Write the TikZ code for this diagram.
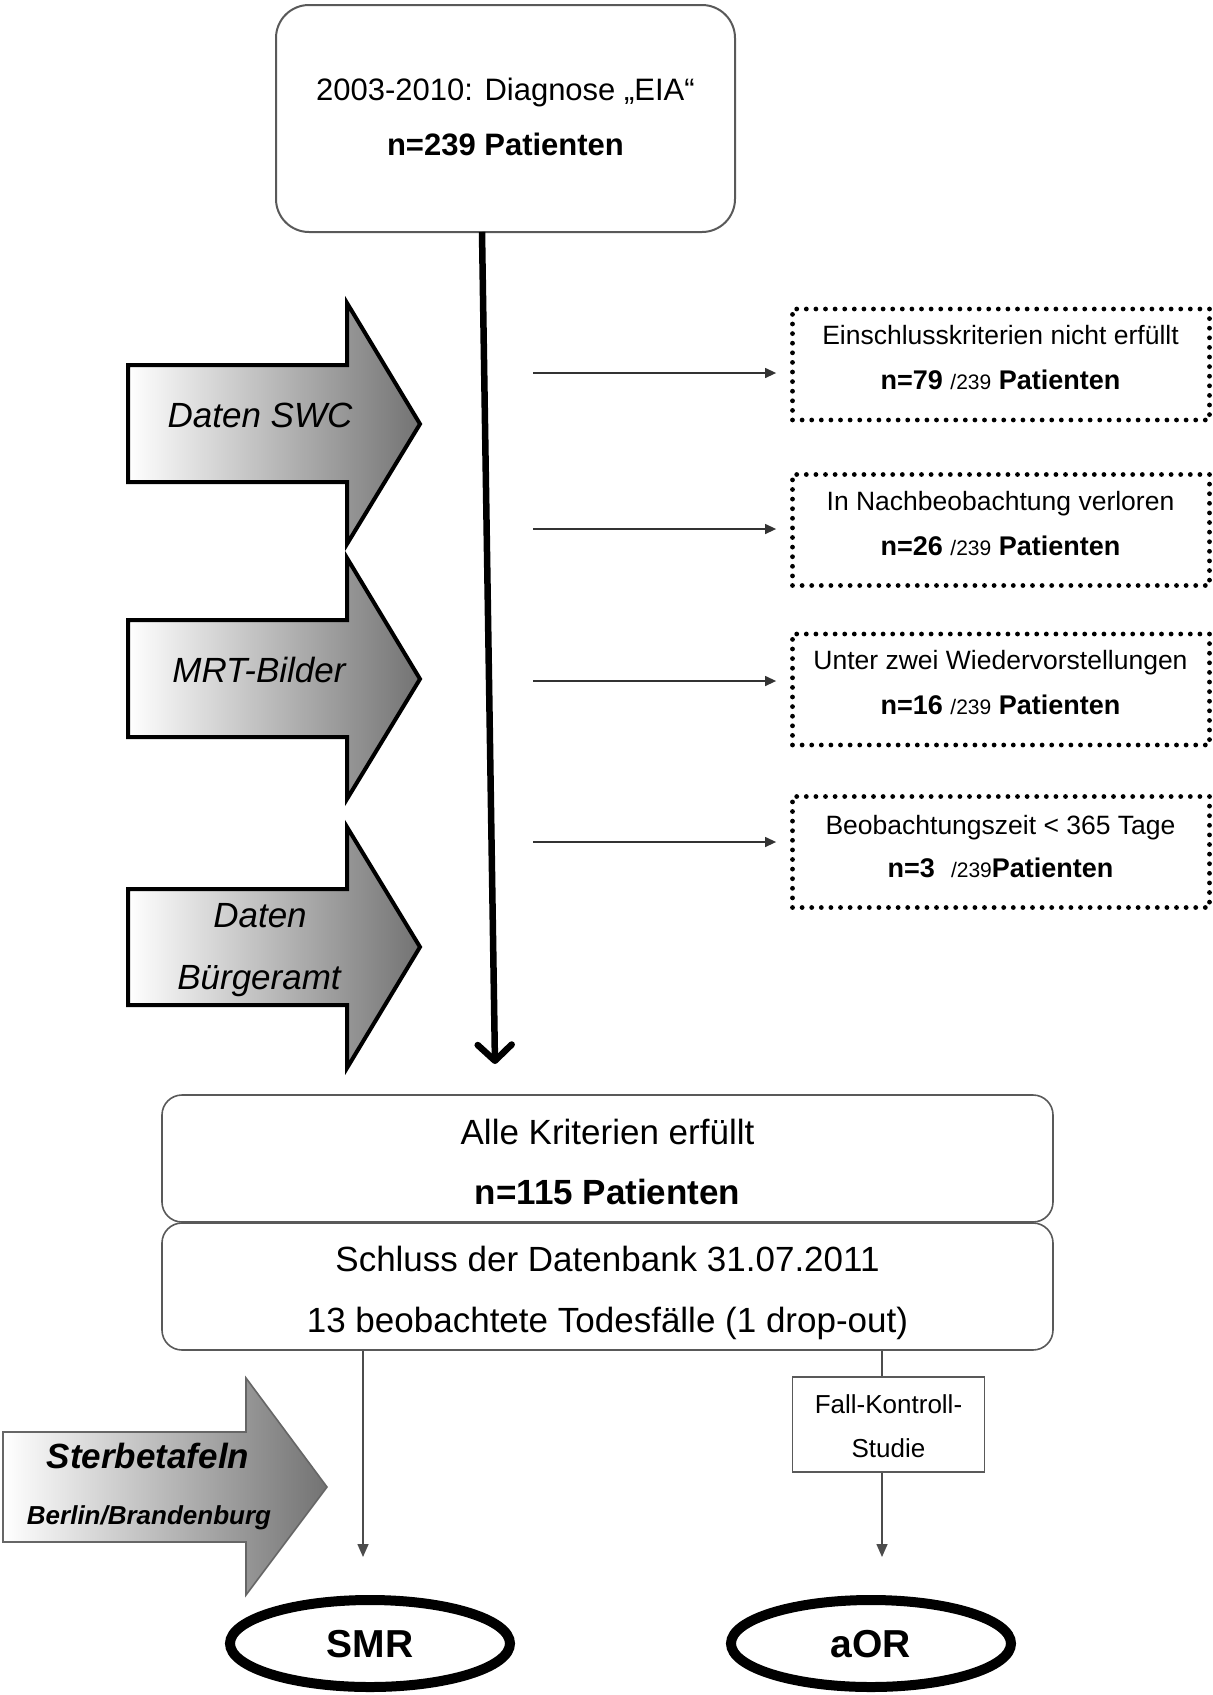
\documentclass[tikz,border=0pt]{standalone}
\usepackage{fontspec}
\setmainfont{Liberation Sans}
\usetikzlibrary{arrows.meta,calc,shapes.geometric}
\newcommand\fsz[1]{\fontsize{#1}{#1}\selectfont}
\begin{document}
\begin{tikzpicture}[x=1pt,y=-1pt,
  txt/.style={inner sep=0pt, anchor=base, text=black},
  topbox/.style={draw=black!65, line width=2pt, rounded corners=33pt, inner sep=0pt},
  bigbox/.style={draw=black!65, line width=1.6pt, rounded corners=20pt, inner sep=0pt, minimum width=891pt},
  dotbox/.style={draw=black, line width=4.8pt, dash pattern=on 0pt off 9.6pt, line cap=round, inner sep=0pt, minimum width=417pt, minimum height=111pt},
  fallbox/.style={draw=black!65, line width=1.4pt, inner sep=0pt, minimum width=192pt, minimum height=95pt},
  oval/.style={draw=black, line width=10pt, ellipse, inner sep=0pt, minimum width=280pt, minimum height=87pt, font=\fsz{39}\bfseries, text depth=0pt},
  bigarrow/.style={draw=black, line width=4pt, line join=miter, left color=white, right color=black!55},
  smallarrow/.style={draw=black!80, line width=1.3pt, -{Triangle[length=11pt,width=10pt]}},
  conn/.style={draw=black!70, line width=1.5pt},
  connarrow/.style={draw=black!70, line width=1.5pt, -{Triangle[length=13pt,width=11pt]}},
  mainarrow/.style={draw=black, line width=6.5pt, -{Straight Barb[length=16pt,width=34pt,round]}}
]
\useasboundingbox (0,0) rectangle (1213,1695);

% top box
\node[topbox, minimum width=459pt, minimum height=227pt] (top) at (505.5,118.5) {};
\node[txt, font=\fsz{31}] (topl1) at (505.5,100) {2003-2010: Diagnose „EIA“};
\node[txt, font=\fsz{31}\bfseries] (topl2) at (505.5,155) {n=239 Patienten};

% side input arrows
\draw[bigarrow] (128,365) -- (347,365) -- (347,303) -- (420,424) -- (347,544) -- (347,482) -- (128,482) -- cycle;
\node[txt, font=\fsz{35}\itshape] (swc) at (260,427) {Daten SWC};

\draw[bigarrow] (128,620) -- (347,620) -- (347,558) -- (420,679) -- (347,799) -- (347,737) -- (128,737) -- cycle;
\node[txt, font=\fsz{35}\itshape] (mrt) at (259,682) {MRT-Bilder};

\draw[bigarrow] (128,889) -- (347,889) -- (347,827) -- (420,947) -- (347,1068) -- (347,1005) -- (128,1005) -- cycle;
\node[txt, font=\fsz{35}\itshape] (bue1) at (260,927) {Daten};
\node[txt, font=\fsz{35}\itshape] (bue2) at (259,989) {Bürgeramt};

% exclusion boxes
\node[dotbox] (ex1) at (1001,364.5) {};
\node[txt, font=\fsz{26.5}] (ex1a) at (1000.5,344) {Einschlusskriterien nicht erfüllt};
\node[txt, font=\fsz{27}] (ex1b) at (1000.5,389) {\textbf{n=79} {\fsz{21}/239} \textbf{Patienten}};

\node[dotbox] (ex2) at (1001,530) {};
\node[txt, font=\fsz{26.5}] (ex2a) at (1000.5,510) {In Nachbeobachtung verloren};
\node[txt, font=\fsz{27}] (ex2b) at (1000.5,555) {\textbf{n=26} {\fsz{21}/239} \textbf{Patienten}};

\node[dotbox] (ex3) at (1001,689.5) {};
\node[txt, font=\fsz{26.5}] (ex3a) at (1000.5,669) {Unter zwei Wiedervorstellungen};
\node[txt, font=\fsz{27}] (ex3b) at (1000.5,714) {\textbf{n=16} {\fsz{21}/239} \textbf{Patienten}};

\node[dotbox] (ex4) at (1001,852) {};
\node[txt, font=\fsz{26.5}] (ex4a) at (1000.5,834) {Beobachtungszeit < 365 Tage};
\node[txt, font=\fsz{27}] (ex4b) at (1000.5,877) {\textbf{n=3}\hspace{0.6em}{\fsz{21}/239}\textbf{Patienten}};

% small arrows
\coordinate (s1) at (533,373);
\coordinate (s2) at (533,529);
\coordinate (s3) at (533,681);
\coordinate (s4) at (533,842);
\draw[smallarrow, shorten >=14pt] (s1) -- (s1 -| ex1.west);
\draw[smallarrow, shorten >=14pt] (s2) -- (s2 -| ex2.west);
\draw[smallarrow, shorten >=14pt] (s3) -- (s3 -| ex3.west);
\draw[smallarrow, shorten >=14pt] (s4) -- (s4 -| ex4.west);

% main arrow
\coordinate (mainstart) at (482,232);
\coordinate (mainend) at (495,1064);
\draw[mainarrow] (mainstart) -- (mainend);

% result boxes
\node[bigbox, minimum height=127pt] (all) at (607.5,1158.5) {};
\node[txt, font=\fsz{35}] (alla) at (607.5,1144) {Alle Kriterien erfüllt};
\node[txt, font=\fsz{35}\bfseries] (allb) at (607.5,1204) {n=115 Patienten};

\node[bigbox, minimum height=127pt] (db) at (607.5,1286.5) {};
\node[txt, font=\fsz{35}] (dba) at (607.5,1271) {Schluss der Datenbank 31.07.2011};
\node[txt, font=\fsz{35}] (dbb) at (607.5,1332) {13 beobachtete Todesfälle (1 drop-out)};

% Sterbetafeln arrow
\draw[bigarrow, line width=1.6pt, draw=black!60] (3,1432) -- (246,1432) -- (246,1378) -- (327,1487) -- (246,1595) -- (246,1542) -- (3,1542) -- cycle;
\node[txt, font=\fsz{35}\bfseries\itshape] (st1) at (148,1468) {Sterbetafeln};
\node[txt, font=\fsz{26}\bfseries\itshape] (st2) at (149,1524) {Berlin/Brandenburg};

% Fall-Kontroll box
\node[fallbox] (fall) at (888.5,1424.5) {};
\node[txt, font=\fsz{26}] (falla) at (888.5,1413) {Fall-Kontroll-};
\node[txt, font=\fsz{26}] (fallb) at (888.5,1457) {Studie};

% ovals
\node[oval] (smr) at (370,1643.5) {SMR};
\node[oval] (aor) at (871,1643.5) {aOR};

% connectors
\coordinate (smrin) at (363,1557);
\coordinate (aorin) at (882,1557);
\draw[connarrow] (db.south -| smrin) -- (smrin);
\draw[conn] (db.south -| aorin) -- (fall.north -| aorin);
\draw[connarrow] (fall.south -| aorin) -- (aorin);
\end{tikzpicture}
\end{document}
